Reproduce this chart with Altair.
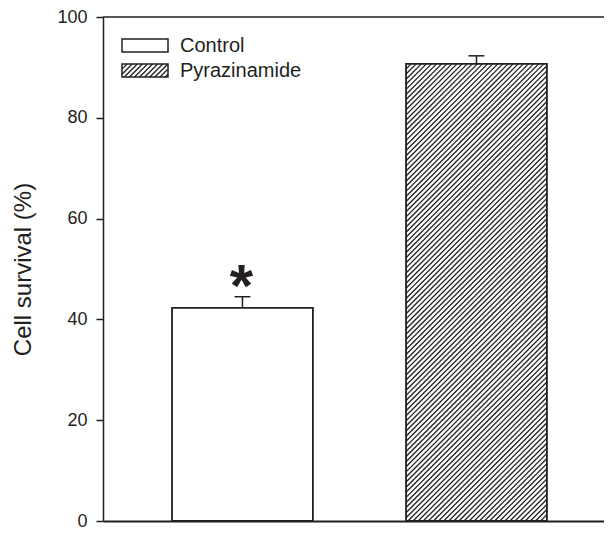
import altair as alt
import pandas as pd
import numpy as np

# ---- data ----
categories = ["Control", "Pyrazinamide"]
means = [42.3, 90.7]
errors = [2.2, 1.6]
hatched = [False, True]
significance = ["*", ""]
y_ticks = [0, 20, 40, 60, 80, 100]

# ---- layout / style ----
PAD_L, PAD_T, PAD_B = 95, 9, 9
W, H = 501, 504
X_DOMAIN = [-0.596, 1.545]
Y_DOMAIN = [0, 100]
HALF = 0.301      # half bar width (x units)
CAP = 0.034       # half cap width (x units)
INK = "#231f20"
FONT = "Liberation Sans"
HATCH_STEP = 5.1  # px between hatch lines (horizontal)

px_x = W / (X_DOMAIN[1] - X_DOMAIN[0])
px_y = H / (Y_DOMAIN[1] - Y_DOMAIN[0])

df = pd.DataFrame({
    "cat": categories,
    "pos": list(range(len(categories))),
    "mean": means,
    "err": errors,
    "sig": significance,
})


def hatch_segments(w, h, step):
    """'/' hatch segments inside a w x h pixel box, origin bottom-left (t up)."""
    segs = []
    c = -h
    while c < w:
        u0 = max(0.0, c)
        u1 = min(w, h + c)
        if u1 > u0:
            segs.append((u0, u0 - c, u1, u1 - c))
        c += step
    return segs


# hatch lines for hatched bars, converted to data units
rows = []
for cat, pos, m, hch in zip(categories, range(len(categories)), means, hatched):
    if not hch:
        continue
    for (u0, t0, u1, t1) in hatch_segments(2 * HALF * px_x, m * px_y, HATCH_STEP):
        rows.append({
            "hx": pos - HALF + u0 / px_x, "hy": t0 / px_y,
            "hx2": pos - HALF + u1 / px_x, "hy2": t1 / px_y,
        })
hatch_df = pd.DataFrame(rows)

xs = alt.Scale(domain=X_DOMAIN, nice=False, zero=False)
ys = alt.Scale(domain=Y_DOMAIN, nice=False, zero=True)

x_axis = alt.Axis(labels=False, ticks=False, title=None, grid=False,
                  domain=True, domainColor=INK, domainWidth=2)
y_axis = alt.Axis(values=y_ticks, grid=False, title="Cell survival (%)",
                  tickSize=7, tickColor=INK, tickWidth=1.5,
                  domainColor=INK, domainWidth=1.5,
                  labelFont=FONT, labelFontSize=18, labelColor=INK, labelPadding=9,
                  titleFont=FONT, titleFontSize=24, titleFontWeight="normal",
                  titleColor=INK, titlePadding=21)

base = alt.Chart(df).transform_calculate(
    x1=f"datum.pos - {HALF}", x2=f"datum.pos + {HALF}",
    top="datum.mean + datum.err",
    c1=f"datum.pos - {CAP}", c2=f"datum.pos + {CAP}",
)

bar_fill = base.mark_rect(fill="white").encode(
    x=alt.X("x1:Q", scale=xs, axis=x_axis),
    x2="x2:Q",
    y=alt.Y("mean:Q", scale=ys, axis=y_axis),
    y2=alt.datum(0),
)

hatch = alt.Chart(hatch_df).mark_rule(color=INK, strokeWidth=1.3).encode(
    x=alt.X("hx:Q", scale=xs), x2="hx2:Q",
    y=alt.Y("hy:Q", scale=ys), y2="hy2:Q",
)

bar_outline = base.mark_rect(fill=None, stroke=INK, strokeWidth=1.8).encode(
    x=alt.X("x1:Q", scale=xs), x2="x2:Q",
    y=alt.Y("mean:Q", scale=ys), y2=alt.datum(0),
)

err_stem = base.mark_rule(color=INK, strokeWidth=1.5).encode(
    x=alt.X("pos:Q", scale=xs),
    y=alt.Y("mean:Q", scale=ys), y2="top:Q",
)
err_cap = base.mark_rule(color=INK, strokeWidth=1.5).encode(
    x=alt.X("c1:Q", scale=xs), x2="c2:Q",
    y=alt.Y("top:Q", scale=ys),
)

star = base.mark_text(font=FONT, fontSize=60, fontWeight="bold", color=INK,
                      baseline="middle", align="center", dx=-1, dy=-9).encode(
    x=alt.X("pos:Q", scale=xs),
    y=alt.Y("top:Q", scale=ys),
    text="sig:N",
)

top_line = alt.Chart(pd.DataFrame({"k": [0]})).mark_rule(color=INK, strokeWidth=1.5).encode(
    x=alt.value(0), x2=alt.value(W), y=alt.value(0),
)

# ---- legend (top-left, pixel layout) ----
LEG_X, LEG_W, LEG_Y0, LEG_DY, LEG_H = 19, 46, 22, 25, 13
leg_df = pd.DataFrame({"cat": categories, "idx": list(range(len(categories)))})
leg_base = alt.Chart(leg_df).transform_calculate(
    ly=f"{LEG_Y0} + datum.idx * {LEG_DY}",
    ly2=f"{LEG_Y0} + datum.idx * {LEG_DY} + {LEG_H}",
    ty=f"{LEG_Y0} + datum.idx * {LEG_DY} + {LEG_H / 2}",
)
leg_fill = leg_base.mark_rect(fill="white").encode(
    x=alt.value(LEG_X), x2=alt.value(LEG_X + LEG_W),
    y=alt.Y("ly:Q", scale=None), y2="ly2:Q",
)
leg_rows = []
for idx, hch in enumerate(hatched):
    if not hch:
        continue
    top_px = LEG_Y0 + idx * LEG_DY
    for (u0, t0, u1, t1) in hatch_segments(LEG_W, LEG_H, HATCH_STEP):
        leg_rows.append({"lx": LEG_X + u0, "lyy": top_px + LEG_H - t0,
                         "lx2": LEG_X + u1, "lyy2": top_px + LEG_H - t1})
leg_hatch = alt.Chart(pd.DataFrame(leg_rows)).mark_rule(color=INK, strokeWidth=1.3).encode(
    x=alt.X("lx:Q", scale=None), x2="lx2:Q",
    y=alt.Y("lyy:Q", scale=None), y2="lyy2:Q",
)
leg_outline = leg_base.mark_rect(fill=None, stroke=INK, strokeWidth=1.5).encode(
    x=alt.value(LEG_X), x2=alt.value(LEG_X + LEG_W),
    y=alt.Y("ly:Q", scale=None), y2="ly2:Q",
)
leg_text = leg_base.mark_text(font=FONT, fontSize=20, color=INK, align="left",
                              baseline="middle").encode(
    x=alt.value(LEG_X + LEG_W + 12),
    y=alt.Y("ty:Q", scale=None),
    text="cat:N",
)

chart = alt.layer(
    bar_fill, hatch, bar_outline, err_stem, err_cap, star, top_line,
    leg_fill, leg_hatch, leg_outline, leg_text,
).properties(
    width=W, height=H,
    padding={"left": PAD_L, "top": PAD_T, "right": 0, "bottom": PAD_B},
    autosize=alt.AutoSizeParams(type="none"),
).configure_view(stroke=None)

chart.save("out.html", embed_options={"renderer": "svg", "actions": False})
